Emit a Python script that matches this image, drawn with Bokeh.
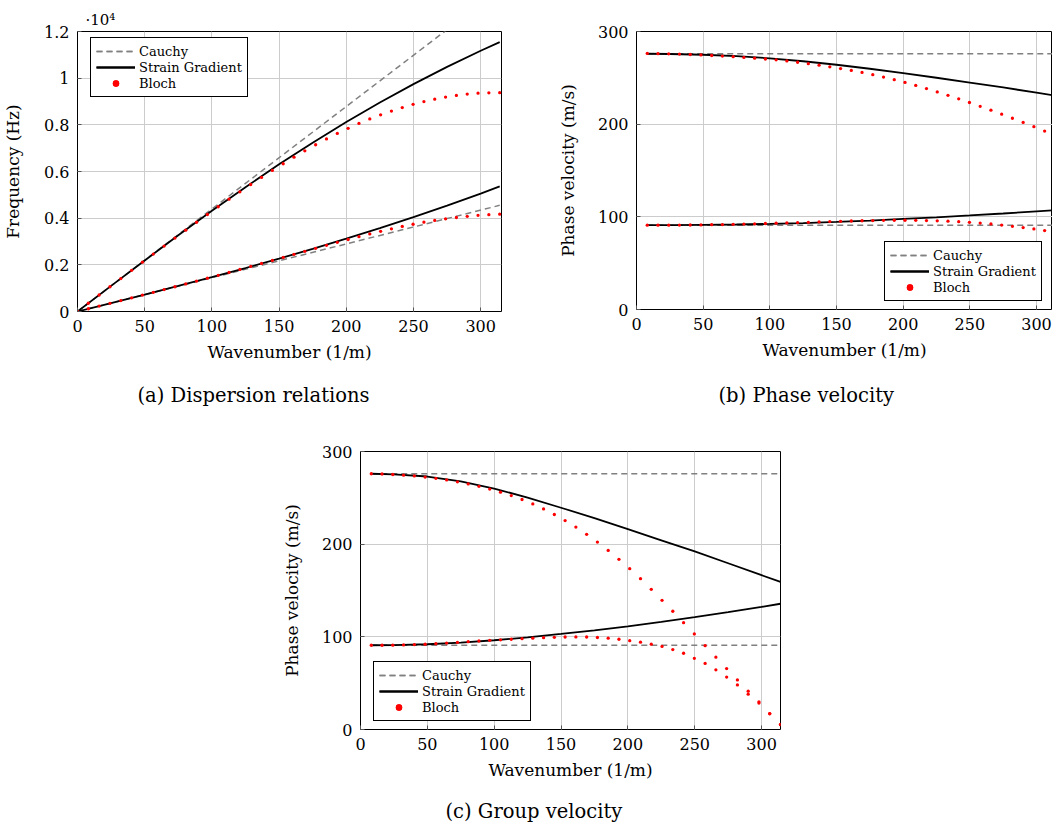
from bokeh.plotting import figure
from bokeh.models import Range1d, FixedTicker, Legend, LegendItem, Title, Spacer
from bokeh.layouts import row, column
from bokeh.embed import file_html
from bokeh.resources import INLINE

FONT = "DejaVu Serif"

# ---------------- data ----------------
k_bloch = [0.0, 8.06, 16.11, 24.17, 32.22, 40.28, 48.33, 56.39, 64.44, 72.50,
           80.55, 88.61, 96.66, 104.72, 112.77, 120.83, 128.88, 136.94, 144.99, 153.05,
           161.10, 169.16, 177.21, 185.27, 193.32, 201.38, 209.44, 217.49, 225.55, 233.60,
           241.66, 249.71, 257.77, 265.82, 273.88, 281.93, 289.99, 298.04, 306.10, 314.16]
k_bloch_v = k_bloch[1:]

# (a) frequency (Hz)
freq_bloch_upper = [0, 354, 708, 1061, 1413, 1764, 2113, 2460, 2805, 3148,
                    3487, 3825, 4158, 4490, 4814, 5131, 5442, 5747, 6044, 6333,
                    6615, 6887, 7147, 7395, 7630, 7852, 8060, 8252, 8429, 8592,
                    8742, 8878, 8997, 9100, 9189, 9261, 9318, 9355, 9372, 9378]
freq_bloch_lower = [0, 117, 233, 350, 467, 585, 702, 821, 940, 1060,
                    1182, 1304, 1428, 1552, 1676, 1804, 1930, 2060, 2190, 2319,
                    2449, 2579, 2708, 2837, 2963, 3086, 3207, 3323, 3435, 3543,
                    3646, 3740, 3828, 3905, 3971, 4029, 4080, 4122, 4151, 4170]
k_sg = [0, 25, 50, 75, 100, 125, 150, 175, 200, 225, 250, 275, 300, 314.16]
freq_sg_upper = [0, 1097, 2188, 3264, 4314, 5329, 6306, 7236, 8120, 8957, 9746, 10486, 11174, 11542]
freq_sg_lower = [0, 362, 726, 1096, 1474, 1864, 2267, 2685, 3120, 3573, 4045, 4539, 5054, 5360]
k_cauchy_a = [0, 314.16]
freq_cauchy_upper = [0, 13800]
freq_cauchy_lower = [0, 4550]

# (b) phase velocity (m/s)
phase_bloch_upper = [276.3, 276.1, 275.9, 275.6, 275.2, 274.7, 274.1, 273.5, 272.8, 272.0,
                     271.2, 270.3, 269.4, 268.2, 266.8, 265.3, 263.7, 261.9, 260.0, 258.0,
                     255.8, 253.4, 250.8, 248.0, 245.0, 241.8, 238.4, 234.8, 231.1, 227.3,
                     223.4, 219.3, 215.1, 210.8, 206.4, 201.9, 197.3, 192.6, 187.8]
phase_bloch_lower = [91.0, 91.0, 91.0, 91.1, 91.2, 91.3, 91.5, 91.7, 91.9, 92.2,
                     92.5, 92.8, 93.1, 93.4, 93.8, 94.1, 94.5, 94.9, 95.2, 95.5,
                     95.8, 96.0, 96.2, 96.3, 96.3, 96.2, 96.0, 95.7, 95.3, 94.8,
                     94.1, 93.3, 92.3, 91.1, 89.8, 88.4, 86.9, 85.2, 83.4]
k_sg_v = [8.06, 25, 50, 75, 100, 125, 150, 175, 200, 225, 250, 275, 300, 314.16]
phase_sg_upper = [276.0, 275.7, 274.9, 273.4, 271.1, 267.9, 264.1, 259.8, 255.1, 250.1, 244.9, 239.6, 234.0, 230.8]
phase_sg_lower = [91.0, 91.0, 91.3, 91.7, 92.4, 93.3, 94.5, 95.9, 97.7, 99.5, 101.5, 103.6, 105.8, 107.1]
k_cauchy_v = [8.06, 314.16]
cauchy_upper = [276.0, 276.0]
cauchy_lower = [91.0, 91.0]

# (c) group velocity (m/s)
group_bloch_upper = [276.0, 275.7, 275.2, 274.5, 273.6, 272.4, 271.0, 269.3, 267.3, 265.0,
                     262.4, 259.4, 256.1, 252.4, 248.2, 243.4, 238.0, 232.0, 225.5, 218.5,
                     210.6, 202.3, 193.3, 183.6, 173.5, 162.8, 151.3, 139.4, 127.6, 115.3,
                     103.1, 90.5, 78.0, 65.8, 53.5, 41.3, 28.5, 17.2, 5.4]
group_bloch_lower = [90.9, 90.9, 91.0, 91.3, 91.6, 92.0, 92.6, 93.3, 94.0, 94.8,
                     95.5, 96.2, 96.8, 97.4, 98.0, 98.6, 99.1, 99.5, 99.8, 99.9,
                     99.8, 99.3, 98.5, 97.4, 95.9, 94.2, 92.1, 89.6, 86.3, 82.3,
                     76.8, 71.3, 64.4, 56.6, 48.1, 38.1, 29.9, 17.0, 5.2]
group_sg_upper = [276.0, 275.4, 273.0, 267.7, 260.0, 250.3, 239.3, 228.0, 216.3, 204.2, 192.2, 179.4, 166.5, 159.3]
group_sg_lower = [90.9, 91.1, 92.0, 93.8, 96.3, 99.5, 103.1, 107.0, 111.4, 116.2, 121.3, 126.7, 132.3, 135.7]

x_ticks = [0, 50, 100, 150, 200, 250, 300]
freq_ticks = [0, 2000, 4000, 6000, 8000, 10000, 12000]
freq_tick_labels = ["0", "0.2", "0.4", "0.6", "0.8", "1", "1.2"]
vel_ticks = [0, 100, 200, 300]

GRAY = "#808080"
RED = "#ff0000"


def make_fig(x_end, y_end, y_ticks, ylabel, ylabel_standoff, fl, fw, fr, ft, fh, fb):
    p = figure(width=fl + fw + fr, height=ft + fh + fb,
               frame_width=fw, frame_height=fh,
               min_border_left=fl, min_border_right=fr,
               min_border_top=ft, min_border_bottom=fb,
               x_range=Range1d(0, x_end), y_range=Range1d(0, y_end),
               output_backend="svg", toolbar_location=None)
    p.background_fill_color = "white"
    p.border_fill_color = "white"
    p.outline_line_color = "black"
    p.outline_line_alpha = 1
    p.outline_line_width = 1
    p.xaxis.ticker = FixedTicker(ticks=x_ticks)
    p.yaxis.ticker = FixedTicker(ticks=y_ticks)
    for ax in (p.xaxis[0], p.yaxis[0]):
        ax.axis_line_color = None
        ax.major_tick_in = 4
        ax.major_tick_out = 0
        ax.major_tick_line_color = "#555555"
        ax.minor_tick_line_color = None
        ax.major_label_text_font = FONT
        ax.major_label_text_font_size = "16px"
        ax.major_label_text_color = "black"
        ax.axis_label_text_font = FONT
        ax.axis_label_text_font_size = "17px"
        ax.axis_label_text_font_style = "normal"
        ax.axis_label_text_color = "black"
        ax.major_label_standoff = 8
    p.xaxis.axis_label = "Wavenumber (1/m)"
    p.xaxis.axis_label_standoff = 7
    p.yaxis.axis_label = ylabel
    p.yaxis.axis_label_standoff = ylabel_standoff
    p.grid.grid_line_color = "#cccccc"
    p.grid.grid_line_width = 1
    return p


def add_series(p, kc, cu, cl, ks, su, sl, kb, bu, bl, loc):
    c1 = p.line(kc, cu, line_color=GRAY, line_width=1.5, line_dash="6 4")
    c2 = p.line(kc, cl, line_color=GRAY, line_width=1.5, line_dash="6 4")
    s1 = p.line(ks, su, line_color="black", line_width=1.8)
    s2 = p.line(ks, sl, line_color="black", line_width=1.8)
    b1 = p.scatter(kb, bu, size=3.3, fill_color=RED, line_color=None)
    b2 = p.scatter(kb, bl, size=3.3, fill_color=RED, line_color=None)
    legend = Legend(items=[LegendItem(label="Cauchy", renderers=[c1, c2]),
                           LegendItem(label="Strain Gradient", renderers=[s1, s2]),
                           LegendItem(label="Bloch", renderers=[b1, b2])],
                    location=loc, margin=0, padding=5, spacing=0,
                    glyph_width=39, glyph_height=16, label_height=16,
                    label_standoff=4, label_text_font=FONT,
                    label_text_font_size="13px", label_text_color="black",
                    border_line_color="black", border_line_width=1, border_line_alpha=1,
                    background_fill_color="white", background_fill_alpha=1)
    p.add_layout(legend)


def caption(p, offset, standoff, text):
    p.add_layout(Title(text=text, align="left", offset=offset, standoff=standoff,
                       text_font=FONT, text_font_size="19.5px", text_font_style="normal",
                       text_color="black"), "below")


# (a)
pa = make_fig(315.5, 12000, freq_ticks, "Frequency (Hz)", 18, 77, 424, 44, 30, 280, 120)
pa.yaxis.major_label_overrides = {t: s for t, s in zip(freq_ticks, freq_tick_labels)}
add_series(pa, k_cauchy_a, freq_cauchy_upper, freq_cauchy_lower, k_sg, freq_sg_upper, freq_sg_lower,
           k_bloch, freq_bloch_upper, freq_bloch_lower, (13, 214))
pa.add_layout(Title(text="·10⁴", align="left", offset=8, standoff=2, vertical_align="top",
                    text_font=FONT, text_font_size="15px", text_font_style="normal",
                    text_color="black"), "above")
caption(pa, 60, 35, "(a) Dispersion relations")

# (b)
pb = make_fig(312, 300, vel_ticks, "Phase velocity (m/s)", 17, 91, 416, 0, 31, 278, 121)
add_series(pb, k_cauchy_v, cauchy_upper, cauchy_lower, k_sg_v, phase_sg_upper, phase_sg_lower,
           k_bloch_v, phase_bloch_upper, phase_bloch_lower, (248, 8))
caption(pb, 82, 38, "(b) Phase velocity")

# (c)
pc = make_fig(314.16, 300, vel_ticks, "Phase velocity (m/s)", 17, 80, 420, 20, 21, 278, 97)
add_series(pc, k_cauchy_v, cauchy_upper, cauchy_lower, k_sg_v, group_sg_upper, group_sg_lower,
           k_bloch_v, group_bloch_upper, group_bloch_lower, (13, 8))
caption(pc, 85, 31, "(c) Group velocity")

layout = column(row(pa, pb), row(Spacer(width=278, height=10), pc))

open("out.html", "w").write(file_html(layout, INLINE))
